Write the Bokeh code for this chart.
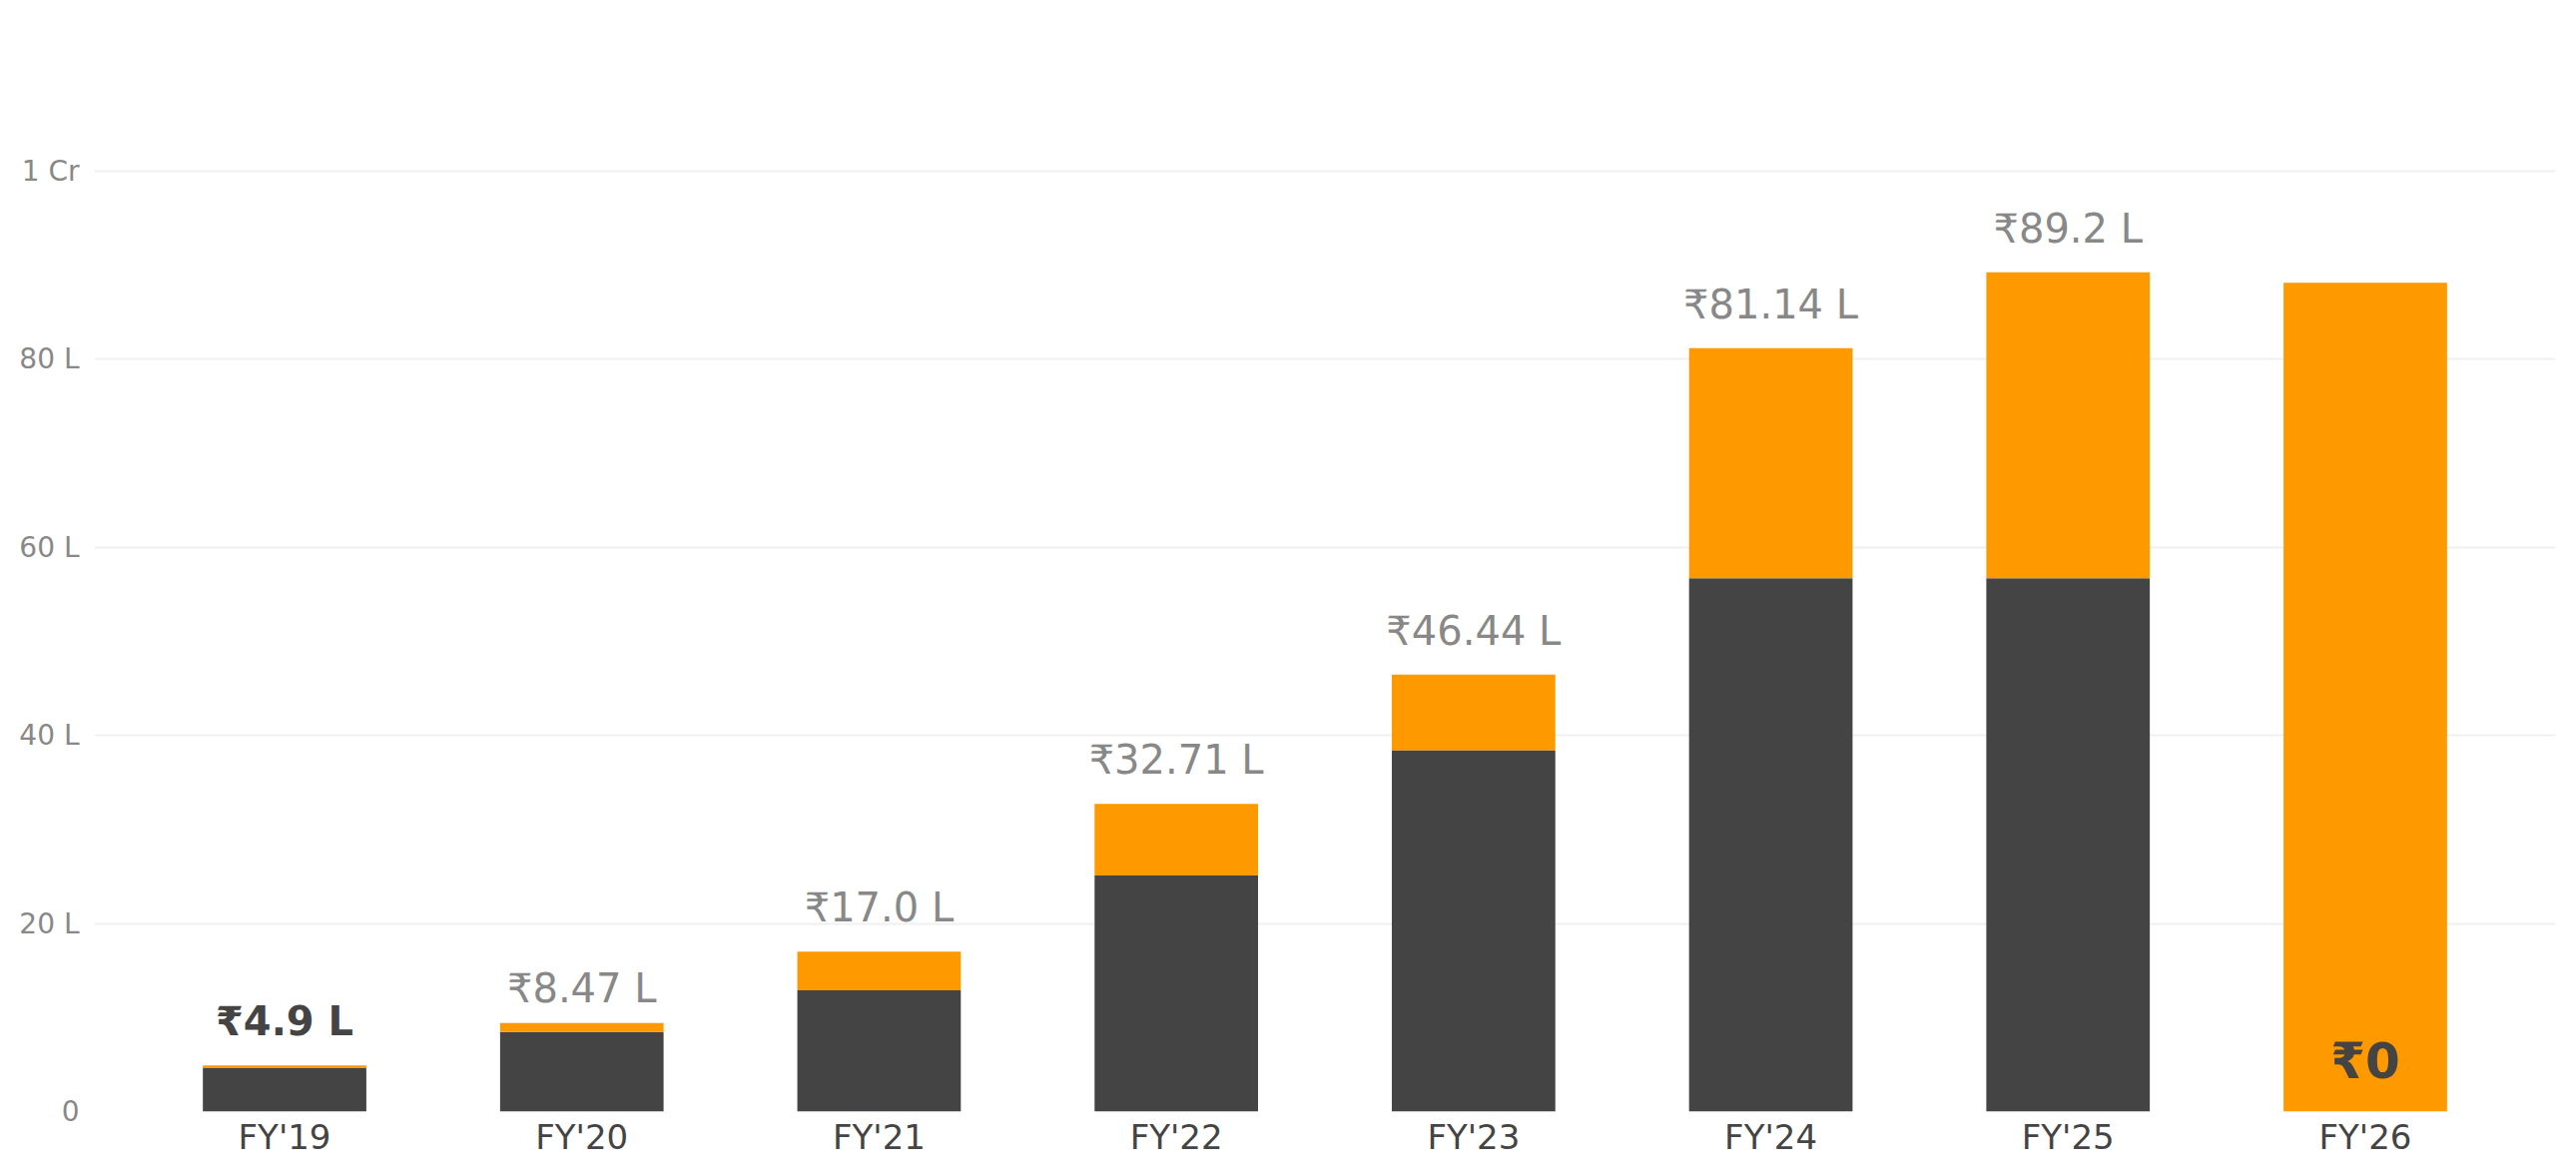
from bokeh.plotting import figure
from bokeh.models import ColumnDataSource, FactorRange, Range1d, FixedTicker
from bokeh.core.properties import value
from bokeh.embed import file_html
from bokeh.resources import INLINE

# ---- data (values in lakh rupees) ----
years = ["FY'19", "FY'20", "FY'21", "FY'22", "FY'23", "FY'24", "FY'25", "FY'26"]
base_vals = [4.68, 8.47, 12.9, 25.1, 38.4, 56.7, 56.7, 0.0]
extra_vals = [0.22, 0.95, 4.1, 7.61, 8.04, 24.44, 32.5, 88.1]
label_vals = [4.9, 8.47, 17.0, 32.71, 46.44, 81.14, 89.2, 0.0]
label_texts = ["₹4.9 L", "₹8.47 L", "₹17.0 L", "₹32.71 L", "₹46.44 L", "₹81.14 L", "₹89.2 L", "₹0"]
tick_vals = [0, 20, 40, 60, 80, 100]
tick_labels = ["0", "20 L", "40 L", "60 L", "80 L", "1 Cr"]

DARK = "#444444"
ORANGE = "#FF9900"
GREY = "#888888"
FONT = "DejaVu Sans"

src = ColumnDataSource(dict(fy=years, base=base_vals, extra=extra_vals))

p = figure(
    width=2564, height=1161,
    x_range=FactorRange(factors=years, range_padding=0.14, range_padding_units="absolute"),
    y_range=Range1d(0, 116.4),
    output_backend="svg", toolbar_location=None,
    min_border_left=94, min_border_right=5, min_border_top=16, min_border_bottom=47,
)
p.outline_line_color = None
p.background_fill_color = "white"

p.vbar_stack(["base", "extra"], x="fy", width=0.55, color=[DARK, ORANGE],
             line_color=None, source=src)

# normal labels
norm_idx = [i for i in range(len(years)) if i not in (0, 7)]
p.text(x=[years[i] for i in norm_idx], y=[label_vals[i] for i in norm_idx],
       text=[label_texts[i] for i in norm_idx], text_align="center",
       text_baseline="alphabetic", y_offset=-44, text_color=GREY,
       text_font=value(FONT), text_font_size="40px")
# highlighted FY'19 label
p.text(x=[years[0]], y=[label_vals[0]], text=[label_texts[0]], text_align="center",
       text_baseline="alphabetic", y_offset=-44, text_color=DARK,
       text_font=value(FONT), text_font_size="40px", text_font_style="bold")
# FY'26 label inside bar
p.text(x=[years[7]], y=[label_vals[7]], text=[label_texts[7]], text_align="center",
       text_baseline="alphabetic", y_offset=-51, text_color=DARK,
       text_font=value(FONT), text_font_size="50px", text_font_style="bold")

# axes
p.yaxis.ticker = FixedTicker(ticks=tick_vals)
p.yaxis.major_label_overrides = {v: t for v, t in zip(tick_vals, tick_labels)}
p.yaxis.axis_line_color = None
p.yaxis.major_tick_line_color = None
p.yaxis.minor_tick_line_color = None
p.yaxis.major_tick_out = 0
p.yaxis.major_label_standoff = 15
p.yaxis.major_label_text_color = GREY
p.yaxis.major_label_text_font = FONT
p.yaxis.major_label_text_font_size = "28px"

p.xaxis.axis_line_color = None
p.xaxis.major_tick_line_color = None
p.xaxis.minor_tick_line_color = None
p.xaxis.major_tick_out = 0
p.xaxis.major_label_standoff = 5
p.xaxis.major_label_text_color = DARK
p.xaxis.major_label_text_font = FONT
p.xaxis.major_label_text_font_size = "34px"

p.xgrid.grid_line_color = None
p.ygrid.grid_line_color = "#f0f0f0"
p.ygrid.grid_line_width = 2

open("out.html", "w").write(file_html(p, INLINE))
